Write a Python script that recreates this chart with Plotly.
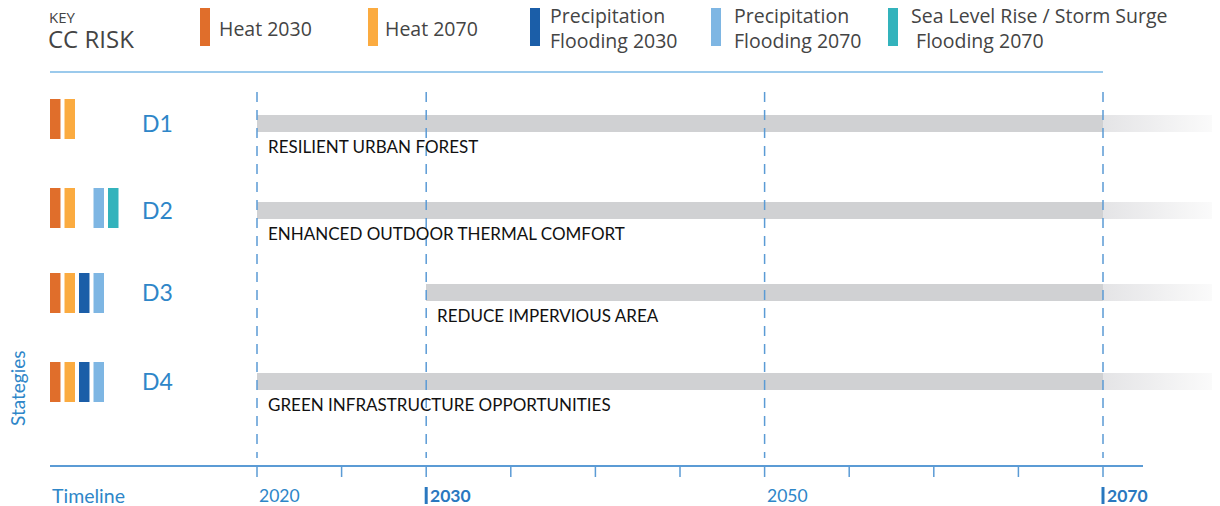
import plotly.graph_objects as go

# ---- data ----
risk_labels = [
    "Heat 2030",
    "Heat 2070",
    "Precipitation<br>Flooding 2030",
    "Precipitation<br>Flooding 2070",
    "Sea Level Rise / Storm Surge<br> Flooding 2070",
]
risk_colors = ["#e06e2b", "#fbab40", "#1b5ea8", "#7eb6e3", "#33b3bc"]

strategies = ["D1", "D2", "D3", "D4"]
strategy_names = [
    "RESILIENT URBAN FOREST",
    "ENHANCED OUTDOOR THERMAL COMFORT",
    "REDUCE IMPERVIOUS AREA",
    "GREEN INFRASTRUCTURE OPPORTUNITIES",
]
start_years = [2020, 2020, 2030, 2020]
end_years = [2070, 2070, 2070, 2070]
# index into risk_labels for each strategy
strategy_risks = [[0, 1], [0, 1, 3, 4], [0, 1, 2, 3], [0, 1, 2, 3]]

tick_years = [2020, 2025, 2030, 2035, 2040, 2045, 2050, 2055, 2060, 2065, 2070]
label_years = [2020, 2030, 2050, 2070]
bold_years = [2030, 2070]

# ---- layout constants ----
# the page body has an 8px margin, so the figure is drawn 8px smaller
# and every position below is given in window pixels
OFF = 8
W, H = 1220, 506
FW, FH = W - OFF, H - OFF
px_per_year = 16.92
x_min = 2020 - (257 - OFF) / px_per_year
x_max = 2070 + (W - 1103) / px_per_year
row_y = [123.5, 210.5, 292.5, 381.5]
marker_y = [119, 208, 293, 382]
bar_h = 17
line_blue = "#5b9bd5"
text_blue = "#2e86c8"
grey_bar = "#d0d1d3"
sans = "Lato, Open Sans, sans-serif"
key_font = "Open Sans, sans-serif"


def px(x):
    return (x - OFF) / FW


fig = go.Figure()

# strategy bars
fig.add_trace(go.Bar(
    y=row_y,
    x=[e - s for s, e in zip(start_years, end_years)],
    base=start_years,
    orientation="h",
    width=bar_h,
    marker=dict(color=grey_bar, line=dict(width=0)),
    hoverinfo="skip",
    showlegend=False,
))

# fading tail after the end year
for yc, e in zip(row_y, end_years):
    top, bot = yc - bar_h / 2, yc + bar_h / 2
    fig.add_trace(go.Scatter(
        x=[e, x_max, x_max, e, e],
        y=[top, top, bot, bot, top],
        mode="none",
        fill="toself",
        fillgradient=dict(type="horizontal",
                          colorscale=[[0, "#e4e4e6"], [1, "#fcfcfc"]]),
        hoverinfo="skip",
        showlegend=False,
    ))

shapes = []
annotations = []

# dashed milestone lines
for yr in label_years:
    shapes.append(dict(type="line", xref="x", yref="y", x0=yr, x1=yr, y0=92, y1=458,
                       line=dict(color=line_blue, width=1.5, dash="10px,8px")))

# top divider
shapes.append(dict(type="line", xref="paper", yref="y", x0=px(50), x1=px(1103), y0=72, y1=72,
                   line=dict(color="#7ab8e6", width=1.5)))

# timeline axis
shapes.append(dict(type="line", xref="paper", yref="y", x0=px(50), x1=px(1143), y0=466, y1=466,
                   line=dict(color=line_blue, width=2)))
for yr in tick_years:
    shapes.append(dict(type="line", xref="x", yref="y", x0=yr, x1=yr, y0=466, y1=477,
                       line=dict(color=line_blue, width=1.5)))
for yr in label_years:
    bold = yr in bold_years
    annotations.append(dict(
        x=yr, y=495, xref="x", yref="y", xanchor="left", yanchor="middle",
        xshift=2 if bold else 0,
        text=f"<b>{yr}</b>" if bold else str(yr), showarrow=False,
        font=dict(family=sans, size=17.5, color="#2a78bf" if bold else text_blue),
    ))
    if bold:
        shapes.append(dict(type="line", xref="x", yref="y", x0=yr, x1=yr, y0=487, y1=504,
                           line=dict(color="#2a78bf", width=3)))

annotations.append(dict(x=px(50), y=495, xref="paper", yref="y", xanchor="left", yanchor="middle",
                        text="Timeline", showarrow=False,
                        font=dict(family=sans, size=19.5, color=text_blue)))
annotations.append(dict(x=px(17), y=388, xref="paper", yref="y", xanchor="center", yanchor="middle",
                        text="Stategies", textangle=-90, showarrow=False,
                        font=dict(family=sans, size=19, color=text_blue)))

# key
annotations.append(dict(x=px(47), y=17, xref="paper", yref="y", xanchor="left", yanchor="middle",
                        text="KEY", showarrow=False,
                        font=dict(family=key_font, size=15, color="#444444")))
annotations.append(dict(x=px(46), y=38, xref="paper", yref="y", xanchor="left", yanchor="middle",
                        text="CC RISK", showarrow=False,
                        font=dict(family=key_font, size=24, color="#444444")))
swatch_x = [200, 368, 530, 711, 888]
key_text_x = [217, 383, 548, 732, 909]
for lab, col, sx, tx in zip(risk_labels, risk_colors, swatch_x, key_text_x):
    shapes.append(dict(type="rect", xref="paper", yref="y", x0=px(sx), x1=px(sx + 10), y0=7, y1=46,
                       fillcolor=col, line=dict(width=0)))
    annotations.append(dict(x=px(tx), y=28, xref="paper", yref="y", xanchor="left", yanchor="middle",
                            text=lab, align="left", showarrow=False,
                            font=dict(family=key_font, size=19.5, color="#444444")))

# strategy labels and risk markers
for i, (d, name, s) in enumerate(zip(strategies, strategy_names, start_years)):
    annotations.append(dict(x=px(140), y=row_y[i] - 1, xref="paper", yref="y", xanchor="left",
                            yanchor="middle", text=d, showarrow=False,
                            font=dict(family=sans, size=23, color=text_blue)))
    annotations.append(dict(x=s, y=row_y[i] + 23, xref="x", yref="y", xanchor="left",
                            yanchor="middle", xshift=9, text=name, showarrow=False,
                            font=dict(family=sans, size=17, color="#111111")))
    for r in strategy_risks[i]:
        x0 = 50 + 14.5 * r
        shapes.append(dict(type="rect", xref="paper", yref="y", x0=px(x0), x1=px(x0 + 10.5),
                           y0=marker_y[i] - 20, y1=marker_y[i] + 20,
                           fillcolor=risk_colors[r], line=dict(width=0)))

fig.update_layout(
    width=FW, height=FH,
    margin=dict(l=0, r=0, t=0, b=0),
    paper_bgcolor="white", plot_bgcolor="white",
    xaxis=dict(range=[x_min, x_max], visible=False, fixedrange=True),
    yaxis=dict(range=[H, OFF], visible=False, fixedrange=True),
    shapes=shapes,
    annotations=annotations,
    showlegend=False,
    bargap=0,
)

fig.write_html("out.html")
